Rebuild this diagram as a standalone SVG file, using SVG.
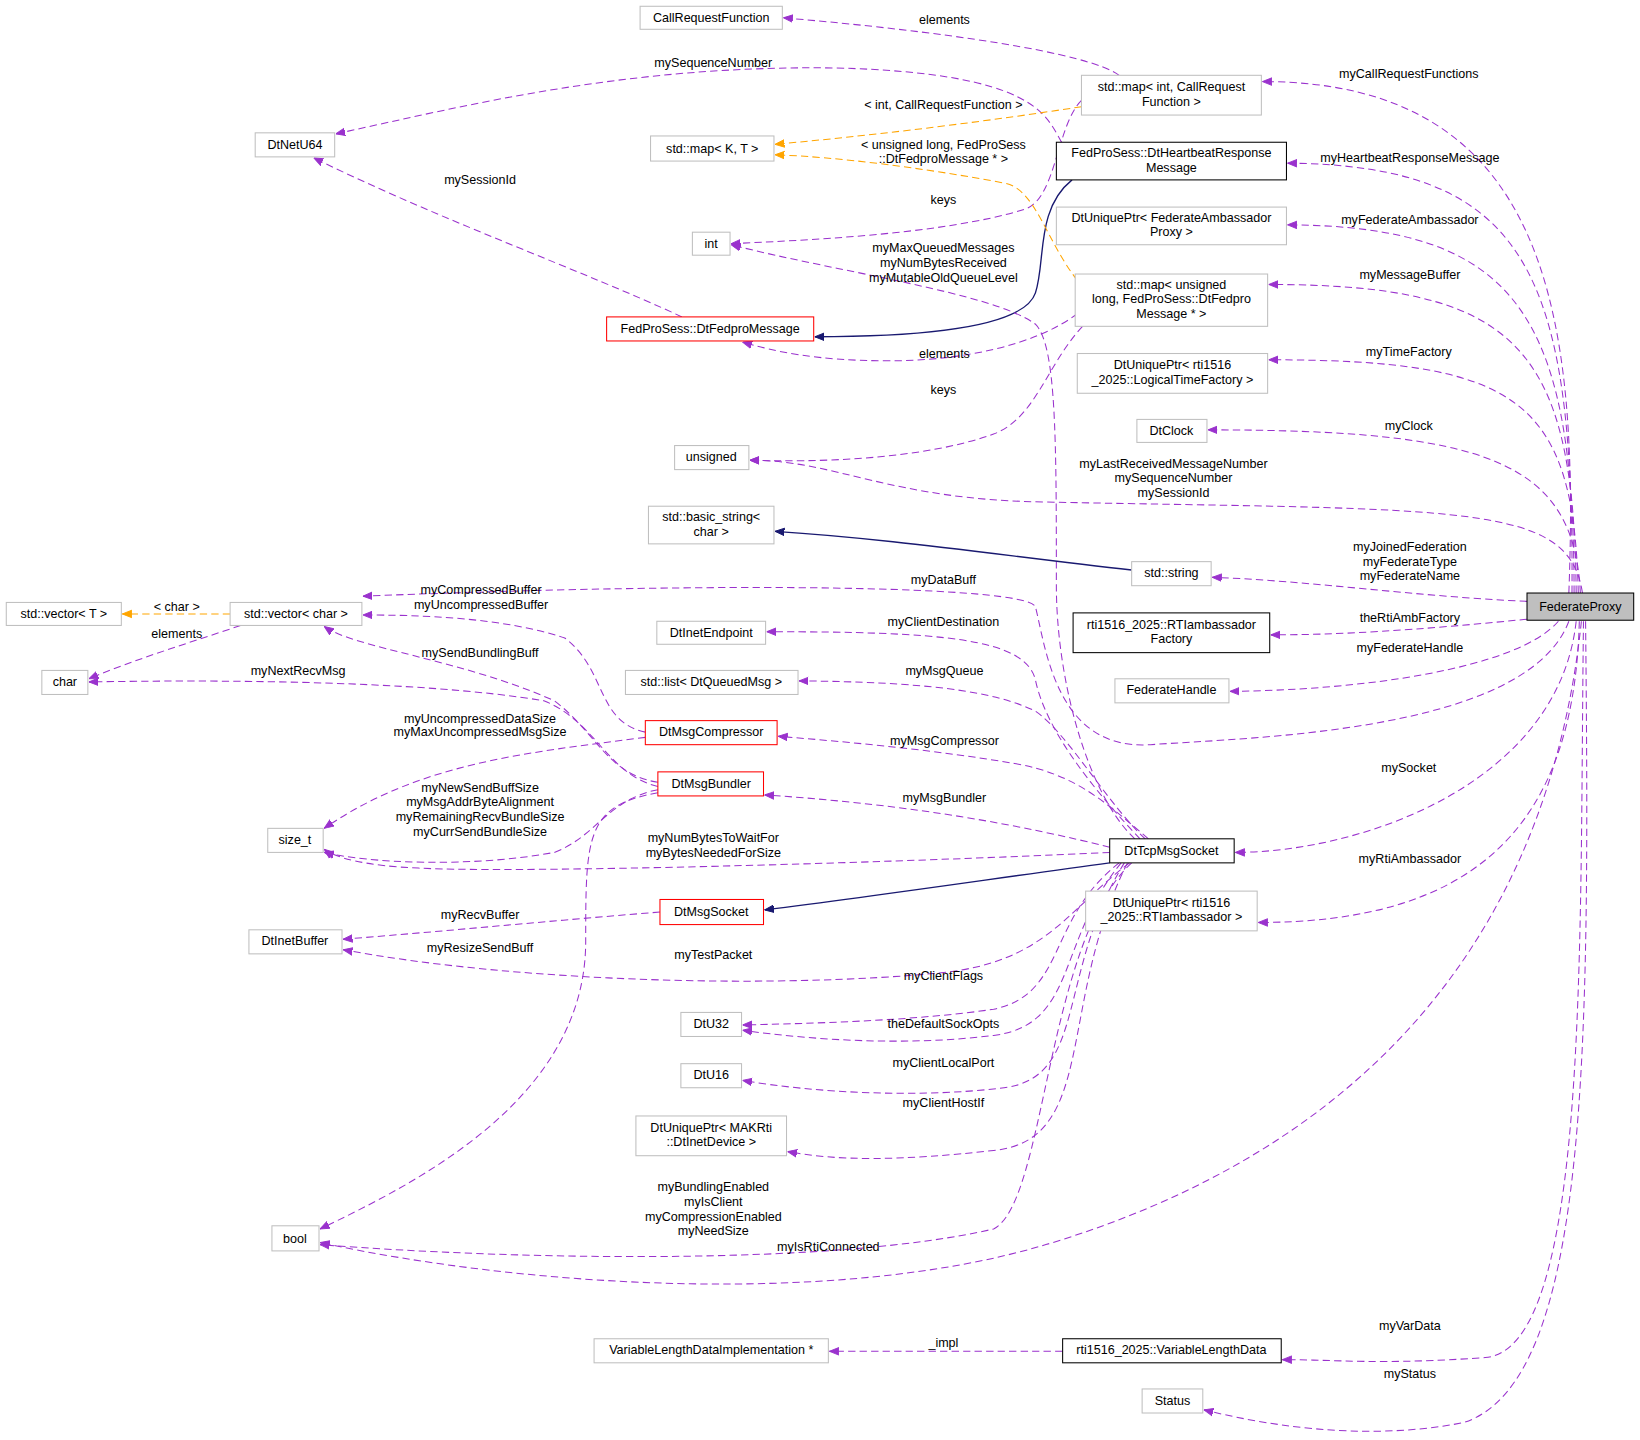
<svg xmlns="http://www.w3.org/2000/svg" width="1640" height="1440" viewBox="0 0 1640 1440">
<defs>
<marker id="ap" viewBox="0 0 10 10" refX="10" refY="5" markerWidth="9" markerHeight="9" orient="auto" markerUnits="userSpaceOnUse"><path d="M0,1 L10,5 L0,9 z" fill="#9a32cd" stroke="#9a32cd"/></marker>
<marker id="an" viewBox="0 0 10 10" refX="10" refY="5" markerWidth="9" markerHeight="9" orient="auto" markerUnits="userSpaceOnUse"><path d="M0,1 L10,5 L0,9 z" fill="#191970" stroke="#191970"/></marker>
<marker id="ao" viewBox="0 0 10 10" refX="10" refY="5" markerWidth="9" markerHeight="9" orient="auto" markerUnits="userSpaceOnUse"><path d="M0,1 L10,5 L0,9 z" fill="#ffa500" stroke="#ffa500"/></marker>
</defs>
<style>
text{font-family:"Liberation Sans",Arial,sans-serif;font-size:12px;fill:#000;text-anchor:middle}
.n rect{fill:#fff;stroke:#bfbfbf;stroke-width:1}
.b rect{stroke:#000}
.r rect{stroke:#ff0000}
.g rect{fill:#bfbfbf;stroke:#000}
.p{fill:none;stroke:#9a32cd;stroke-dasharray:7,4;marker-end:url(#ap)}
.i{fill:none;stroke:#191970;stroke-width:1.3;marker-end:url(#an)}
.o{fill:none;stroke:#ffa500;stroke-dasharray:7,4;marker-end:url(#ao)}
</style>
<rect width="1640" height="1440" fill="#fff"/>
<g transform="scale(1.0459)">
<g id="edges">
<path class="p" d="M1500,567 C1510,300 1480,78 1207,78"/>
<path class="p" d="M1503,567 C1505,260 1460,158 1231,156"/>
<path class="p" d="M1505,567 C1505,300 1450,216 1231,215"/>
<path class="p" d="M1507,567 C1505,330 1450,272 1213,272"/>
<path class="p" d="M1509,567 C1505,380 1450,344 1213,344"/>
<path class="p" d="M1511,567 C1505,440 1420,411 1155,411"/>
<path class="p" d="M1513,567 C1500,480 1400,488 1000,480 C850,478 800,440 717,440"/>
<path class="p" d="M1460,575 C1350,570 1250,555 1159,552"/>
<path class="p" d="M1460,592 C1350,603 1280,607 1215,607"/>
<path class="p" d="M1490,594 C1450,640 1300,660 1176,661"/>
<path class="p" d="M1500,594 C1460,700 1200,705 1100,712 C1010,718 1000,620 990,580 C980,560 700,556 347,570"/>
<path class="p" d="M1507,594 C1490,750 1300,815 1181,815"/>
<path class="p" d="M1510,594 C1505,800 1400,882 1203,882"/>
<path class="p" d="M1512,594 C1480,900 1300,1100 1000,1190 C800,1250 500,1230 306,1188"/>
<path class="p" d="M1514,594 C1510,900 1520,1290 1420,1298 C1320,1305 1280,1300 1226,1300"/>
<path class="p" d="M1516,594 C1520,1000 1520,1320 1400,1360 C1300,1380 1200,1360 1151,1348"/>
<path class="p" d="M1015,136 C1000,110 990,70 800,65 C600,62 450,100 321,128"/>
<path class="p" d="M652,303 C560,260 420,210 300,151"/>
<path class="i" d="M1025,172 C990,200 1000,250 990,280 C980,310 900,322 779,322"/>
<path class="p" d="M1070,72 C1040,50 900,30 749,17"/>
<path class="p" d="M1034,96 C1010,120 1010,190 980,200 C900,225 760,230 699,233"/>
<path class="o" d="M1034,102 C950,115 850,128 741,138"/>
<path class="o" d="M1030,268 C1000,230 990,180 960,175 C880,160 800,150 741,148"/>
<path class="p" d="M1030,300 C990,330 920,345 850,345 C780,345 740,336 710,327"/>
<path class="p" d="M1035,312 C1000,350 990,400 950,415 C880,440 780,442 717,440"/>
<path class="p" d="M1085,802 C1040,760 1010,650 1010,560 C1010,420 1010,330 990,310 C950,280 800,260 699,234"/>
<path class="p" d="M1090,802 C1050,760 1000,700 990,650 C980,610 900,604 733,604"/>
<path class="p" d="M1095,802 C1060,770 1020,700 990,680 C950,660 880,652 764,651"/>
<path class="p" d="M1098,802 C1060,770 1030,740 970,730 C900,718 820,710 744,704"/>
<path class="p" d="M1061,810 C980,790 880,770 731,760"/>
<path class="p" d="M1061,815 C850,825 500,835 400,830 C350,828 320,820 310,812"/>
<path class="i" d="M1061,825 C950,840 850,855 731,870"/>
<path class="p" d="M1080,825 C1020,870 1000,920 900,930 C750,945 500,940 328,908"/>
<path class="p" d="M1070,825 C1000,880 1020,950 950,965 C880,975 800,978 710,980"/>
<path class="p" d="M1072,825 C1010,900 1030,980 950,990 C870,1000 780,995 710,985"/>
<path class="p" d="M1075,825 C1010,930 1040,1030 960,1040 C880,1050 780,1045 710,1033"/>
<path class="p" d="M1078,825 C1010,960 1050,1090 950,1100 C860,1110 800,1110 753,1101"/>
<path class="p" d="M1082,825 C1000,900 1000,1150 950,1175 C800,1210 500,1205 306,1190"/>
<path class="i" d="M1082,545 C950,530 850,515 741,508"/>
<path class="o" d="M220,587 L117,587"/>
<path class="p" d="M230,598 C180,615 130,630 85,649"/>
<path class="p" d="M617,700 C570,690 580,640 540,610 C480,590 400,588 347,588"/>
<path class="p" d="M617,705 C500,720 400,730 310,792"/>
<path class="p" d="M629,748 C580,740 570,700 530,670 C440,630 340,620 310,599"/>
<path class="p" d="M629,752 C580,740 570,690 520,670 C400,650 200,650 85,652"/>
<path class="p" d="M629,755 C580,765 570,800 530,815 C450,830 350,825 310,815"/>
<path class="p" d="M629,758 C560,770 560,800 560,900 C560,1050 400,1130 306,1175"/>
<path class="p" d="M631,872 C530,880 430,890 328,898"/>
<path class="p" d="M1016,1292 C920,1292 850,1292 793,1292"/>
</g>
<g id="labels">
<text x="903" y="23">elements</text>
<text x="682" y="64">mySequenceNumber</text>
<text x="1347" y="75">myCallRequestFunctions</text>
<text x="902" y="104">&lt; int, CallRequestFunction &gt;</text>
<text x="902" y="142">&lt; unsigned long, FedProSess</text>
<text x="902" y="156">::DtFedproMessage * &gt;</text>
<text x="1348" y="155">myHeartbeatResponseMessage</text>
<text x="459" y="176">mySessionId</text>
<text x="902" y="195">keys</text>
<text x="1348" y="214">myFederateAmbassador</text>
<text x="902" y="241">myMaxQueuedMessages</text>
<text x="902" y="255">myNumBytesReceived</text>
<text x="902" y="270">myMutableOldQueueLevel</text>
<text x="1348" y="267">myMessageBuffer</text>
<text x="1347" y="340">myTimeFactory</text>
<text x="903" y="342">elements</text>
<text x="902" y="377">keys</text>
<text x="1347" y="411">myClock</text>
<text x="1122" y="447">myLastReceivedMessageNumber</text>
<text x="1122" y="461">mySequenceNumber</text>
<text x="1122" y="475">mySessionId</text>
<text x="1348" y="527">myJoinedFederation</text>
<text x="1348" y="541">myFederateType</text>
<text x="1348" y="555">myFederateName</text>
<text x="902" y="558">myDataBuff</text>
<text x="460" y="568">myCompressedBuffer</text>
<text x="460" y="582">myUncompressedBuffer</text>
<text x="169" y="584">&lt; char &gt;</text>
<text x="1348" y="595">theRtiAmbFactory</text>
<text x="902" y="599">myClientDestination</text>
<text x="169" y="610">elements</text>
<text x="1348" y="623">myFederateHandle</text>
<text x="459" y="628">mySendBundlingBuff</text>
<text x="285" y="645">myNextRecvMsg</text>
<text x="903" y="645">myMsgQueue</text>
<text x="459" y="691">myUncompressedDataSize</text>
<text x="459" y="704">myMaxUncompressedMsgSize</text>
<text x="903" y="712">myMsgCompressor</text>
<text x="1347" y="738">mySocket</text>
<text x="459" y="757">myNewSendBuffSize</text>
<text x="459" y="771">myMsgAddrByteAlignment</text>
<text x="459" y="785">myRemainingRecvBundleSize</text>
<text x="459" y="799">myCurrSendBundleSize</text>
<text x="903" y="767">myMsgBundler</text>
<text x="682" y="805">myNumBytesToWaitFor</text>
<text x="682" y="819">myBytesNeededForSize</text>
<text x="1348" y="825">myRtiAmbassador</text>
<text x="459" y="879">myRecvBuffer</text>
<text x="459" y="910">myResizeSendBuff</text>
<text x="682" y="917">myTestPacket</text>
<text x="902" y="937">myClientFlags</text>
<text x="902" y="983">theDefaultSockOpts</text>
<text x="902" y="1020">myClientLocalPort</text>
<text x="902" y="1058">myClientHostIf</text>
<text x="682" y="1139">myBundlingEnabled</text>
<text x="682" y="1153">myIsClient</text>
<text x="682" y="1167">myCompressionEnabled</text>
<text x="682" y="1181">myNeedSize</text>
<text x="792" y="1196">myIsRtiConnected</text>
<text x="1348" y="1272">myVarData</text>
<text x="902" y="1288">_impl</text>
<text x="1348" y="1318">myStatus</text>
</g>
<g id="n1" class="n"><rect x="612" y="6" width="136" height="22"/><text x="680" y="21">CallRequestFunction</text></g>
<g id="n2" class="n"><rect x="1034" y="72" width="172" height="38"/><text x="1120" y="87">std::map&lt; int, CallRequest</text><text x="1120" y="101">Function &gt;</text></g>
<g id="n3" class="n"><rect x="244" y="127" width="76" height="23"/><text x="282" y="142">DtNetU64</text></g>
<g id="n4" class="n"><rect x="622" y="130" width="118" height="24"/><text x="681" y="146">std::map&lt; K, T &gt;</text></g>
<g id="n5" class="n b"><rect x="1010" y="136" width="220" height="36"/><text x="1120" y="150">FedProSess::DtHeartbeatResponse</text><text x="1120" y="164">Message</text></g>
<g id="n6" class="n"><rect x="1010" y="198" width="220" height="36"/><text x="1120" y="212">DtUniquePtr&lt; FederateAmbassador</text><text x="1120" y="226">Proxy &gt;</text></g>
<g id="n7" class="n"><rect x="662" y="222" width="36" height="22"/><text x="680" y="237">int</text></g>
<g id="n8" class="n"><rect x="1028" y="262" width="184" height="50"/><text x="1120" y="276">std::map&lt; unsigned</text><text x="1120" y="290"> long, FedProSess::DtFedpro</text><text x="1120" y="304">Message * &gt;</text></g>
<g id="n9" class="n r"><rect x="580" y="303" width="198" height="23"/><text x="679" y="318">FedProSess::DtFedproMessage</text></g>
<g id="n10" class="n"><rect x="1030" y="338" width="182" height="38"/><text x="1121" y="353">DtUniquePtr&lt; rti1516</text><text x="1121" y="367">_2025::LogicalTimeFactory &gt;</text></g>
<g id="n11" class="n"><rect x="1087" y="401" width="67" height="22"/><text x="1120" y="416">DtClock</text></g>
<g id="n12" class="n"><rect x="645" y="426" width="71" height="23"/><text x="680" y="441">unsigned</text></g>
<g id="n13" class="n"><rect x="620" y="484" width="120" height="36"/><text x="680" y="498">std::basic_string&lt;</text><text x="680" y="512">char &gt;</text></g>
<g id="n14" class="n"><rect x="1082" y="537" width="76" height="23"/><text x="1120" y="552">std::string</text></g>
<g id="n15" class="n"><rect x="6" y="576" width="110" height="22"/><text x="61" y="591">std::vector&lt; T &gt;</text></g>
<g id="n16" class="n"><rect x="220" y="576" width="126" height="22"/><text x="283" y="591">std::vector&lt; char &gt;</text></g>
<g id="n17" class="n b"><rect x="1026" y="586" width="188" height="38"/><text x="1120" y="601">rti1516_2025::RTIambassador</text><text x="1120" y="615">Factory</text></g>
<g id="n18" class="n g"><rect x="1460" y="567" width="102" height="26"/><text x="1511" y="584">FederateProxy</text></g>
<g id="n19" class="n"><rect x="628" y="594" width="104" height="22"/><text x="680" y="609">DtInetEndpoint</text></g>
<g id="n20" class="n"><rect x="40" y="641" width="44" height="23"/><text x="62" y="656">char</text></g>
<g id="n21" class="n"><rect x="598" y="641" width="165" height="23"/><text x="680" y="656">std::list&lt; DtQueuedMsg &gt;</text></g>
<g id="n22" class="n"><rect x="1066" y="649" width="109" height="23"/><text x="1120" y="664">FederateHandle</text></g>
<g id="n23" class="n r"><rect x="617" y="689" width="126" height="23"/><text x="680" y="704">DtMsgCompressor</text></g>
<g id="n24" class="n r"><rect x="629" y="738" width="101" height="23"/><text x="680" y="753">DtMsgBundler</text></g>
<g id="n25" class="n"><rect x="256" y="792" width="53" height="23"/><text x="282" y="807">size_t</text></g>
<g id="n26" class="n b"><rect x="1061" y="802" width="119" height="23"/><text x="1120" y="817">DtTcpMsgSocket</text></g>
<g id="n27" class="n r"><rect x="631" y="860" width="99" height="24"/><text x="680" y="876">DtMsgSocket</text></g>
<g id="n28" class="n"><rect x="1038" y="852" width="164" height="38"/><text x="1120" y="867">DtUniquePtr&lt; rti1516</text><text x="1120" y="881">_2025::RTIambassador &gt;</text></g>
<g id="n29" class="n"><rect x="238" y="889" width="89" height="23"/><text x="282" y="904">DtInetBuffer</text></g>
<g id="n30" class="n"><rect x="651" y="968" width="58" height="23"/><text x="680" y="983">DtU32</text></g>
<g id="n31" class="n"><rect x="651" y="1017" width="58" height="23"/><text x="680" y="1032">DtU16</text></g>
<g id="n32" class="n"><rect x="608" y="1067" width="144" height="38"/><text x="680" y="1082">DtUniquePtr&lt; MAKRti</text><text x="680" y="1096">::DtInetDevice &gt;</text></g>
<g id="n33" class="n"><rect x="260" y="1172" width="45" height="24"/><text x="282" y="1188">bool</text></g>
<g id="n34" class="n"><rect x="568" y="1280" width="224" height="23"/><text x="680" y="1295">VariableLengthDataImplementation *</text></g>
<g id="n35" class="n b"><rect x="1016" y="1280" width="209" height="23"/><text x="1120" y="1295">rti1516_2025::VariableLengthData</text></g>
<g id="n36" class="n"><rect x="1092" y="1328" width="58" height="23"/><text x="1121" y="1343">Status</text></g>
</g>
</svg>
